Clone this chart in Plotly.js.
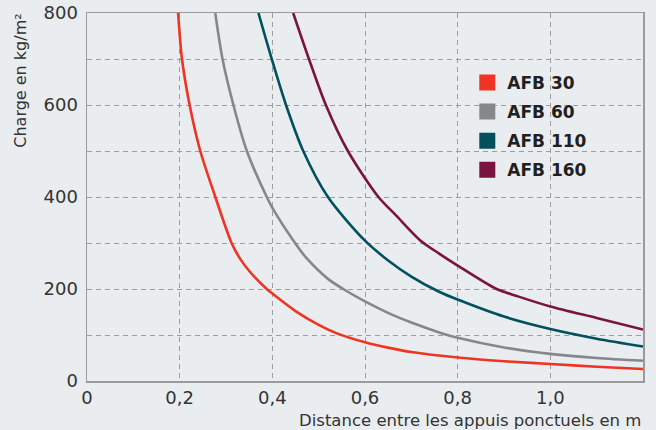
<!DOCTYPE html>
<html>
<head>
<meta charset="utf-8">
<script src="https://cdn.plot.ly/plotly-3.0.1.min.js"></script>
<style>
  html, body { margin: 0; padding: 0; background: #e9edf0; }
  #chart { width: 656px; height: 430px; }
</style>
</head>
<body>
<div id="chart"></div>
<script>
// ---- Data ----
const seriesNames = ['AFB 30', 'AFB 60', 'AFB 110', 'AFB 160'];
const seriesColors = ['#ef3423', '#86878a', '#00505e', '#7b1341'];

const distAFB30 = [0.1966, 0.205, 0.2215, 0.2445, 0.277, 0.312, 0.331, 0.352, 0.388, 0.400, 0.450, 0.500, 0.538, 0.600, 0.652, 0.700, 0.800, 0.900, 1.000, 1.100, 1.200];
const loadAFB30 = [800, 700, 600, 500, 400, 300, 265, 237, 200, 190, 152, 122, 104, 84, 72, 63, 51, 43, 37, 31, 26];

const distAFB60 = [0.2768, 0.2925, 0.316, 0.345, 0.388, 0.402, 0.449, 0.473, 0.520, 0.553, 0.600, 0.652, 0.700, 0.765, 0.800, 0.900, 1.000, 1.100, 1.200];
const loadAFB60 = [800, 700, 600, 500, 400, 373, 300, 268, 222, 200, 173, 147, 127, 104, 94, 73, 59, 50, 44];

const distAFB110 = [0.370, 0.3987, 0.4295, 0.4667, 0.520, 0.600, 0.650, 0.700, 0.760, 0.800, 0.900, 1.000, 1.100, 1.200];
const loadAFB110 = [800, 700, 600, 500, 400, 305, 262, 227, 194, 177, 140, 113, 92, 75];

const distAFB160 = [0.445, 0.479, 0.5155, 0.563, 0.629, 0.667, 0.720, 0.760, 0.800, 0.884, 0.930, 1.000, 1.100, 1.200];
const loadAFB160 = [800, 700, 600, 500, 400, 360, 305, 277, 251, 200, 184, 162, 137, 112];

const xTickVals = [0, 0.2, 0.4, 0.6, 0.8, 1.0, 1.2];
const xTickText = ['0', '0,2', '0,4', '0,6', '0,8', '1,0', '1,2'];
const yTickVals = [0, 200, 400, 600, 800];
const yTickText = ['0', '200', '400', '600', '800'];

const xTitle = 'Distance entre les appuis ponctuels en m';
const yTitle = 'Charge en kg/m²';

// ---- Build traces ----
const xs = [distAFB30, distAFB60, distAFB110, distAFB160];
const ys = [loadAFB30, loadAFB60, loadAFB110, loadAFB160];

const traces = [];
for (let i = 0; i < seriesNames.length; i++) {
  traces.push({
    type: 'scatter', mode: 'lines',
    x: xs[i], y: ys[i],
    name: seriesNames[i],
    line: { color: seriesColors[i], width: 2.6, shape: 'spline', smoothing: 0.8 },
    showlegend: false, hoverinfo: 'skip'
  });
}
// legend entries with square swatches
for (let i = 0; i < seriesNames.length; i++) {
  traces.push({
    type: 'scatter', mode: 'markers',
    x: [null], y: [null],
    name: seriesNames[i],
    legendgroup: 'g' + i,
    marker: { symbol: 'square', size: 16, color: seriesColors[i], line: { width: 0 } },
    showlegend: true
  });
}

const gridColor = '#9d9d9d';
const bg = '#e9edf0';
const FONT = 'DejaVu Sans, sans-serif';

const layout = {
  width: 656, height: 430,
  margin: { l: 87, r: 13, t: 13, b: 49 },
  paper_bgcolor: bg, plot_bgcolor: bg,
  font: { family: FONT, size: 17, color: '#333333' },
  showlegend: true,
  legend: {
    x: 0.684, y: 0.859, xanchor: 'left', yanchor: 'top',
    bgcolor: 'rgba(0,0,0,0)', borderwidth: 0,
    font: { family: FONT, size: 17, color: '#231f20', weight: 'bold' },
    tracegroupgap: 4, itemwidth: 30
  },
  xaxis: {
    range: [0, 1.2], fixedrange: true,
    tickmode: 'array', tickvals: xTickVals, ticktext: xTickText,
    showgrid: true, gridcolor: gridColor, griddash: '5px,4px', gridwidth: 1,
    zeroline: false, showline: true, mirror: true, linecolor: '#9a9a9a', linewidth: 1.5,
    ticks: '', tickfont: { family: FONT, size: 18, color: '#333333' }
  },
  yaxis: {
    range: [0, 800], fixedrange: true,
    tickmode: 'array', tickvals: yTickVals, ticktext: yTickText,
    showgrid: true, gridcolor: gridColor, griddash: '5px,4px', gridwidth: 1,
    minor: { dtick: 100, tick0: 0, showgrid: true, gridcolor: gridColor, griddash: '5px,4px', gridwidth: 1, ticks: '' },
    zeroline: false, showline: true, mirror: true, linecolor: '#9a9a9a', linewidth: 1.5,
    ticks: '', ticklabelstandoff: 4, tickfont: { family: FONT, size: 18, color: '#333333' }
  },
  annotations: [
    {
      text: xTitle, xref: 'paper', yref: 'paper',
      x: 1, y: -0.108, xanchor: 'right', yanchor: 'middle',
      showarrow: false, font: { family: FONT, size: 16.5, color: '#333333' }
    },
    {
      text: yTitle, xref: 'paper', yref: 'paper',
      x: -0.119, y: 1.003, xanchor: 'center', yanchor: 'top', textangle: -90,
      showarrow: false, font: { family: FONT, size: 16, color: '#333333' }
    }
  ]
};

Plotly.newPlot('chart', traces, layout, { displayModeBar: false, staticPlot: true });
</script>
</body>
</html>
